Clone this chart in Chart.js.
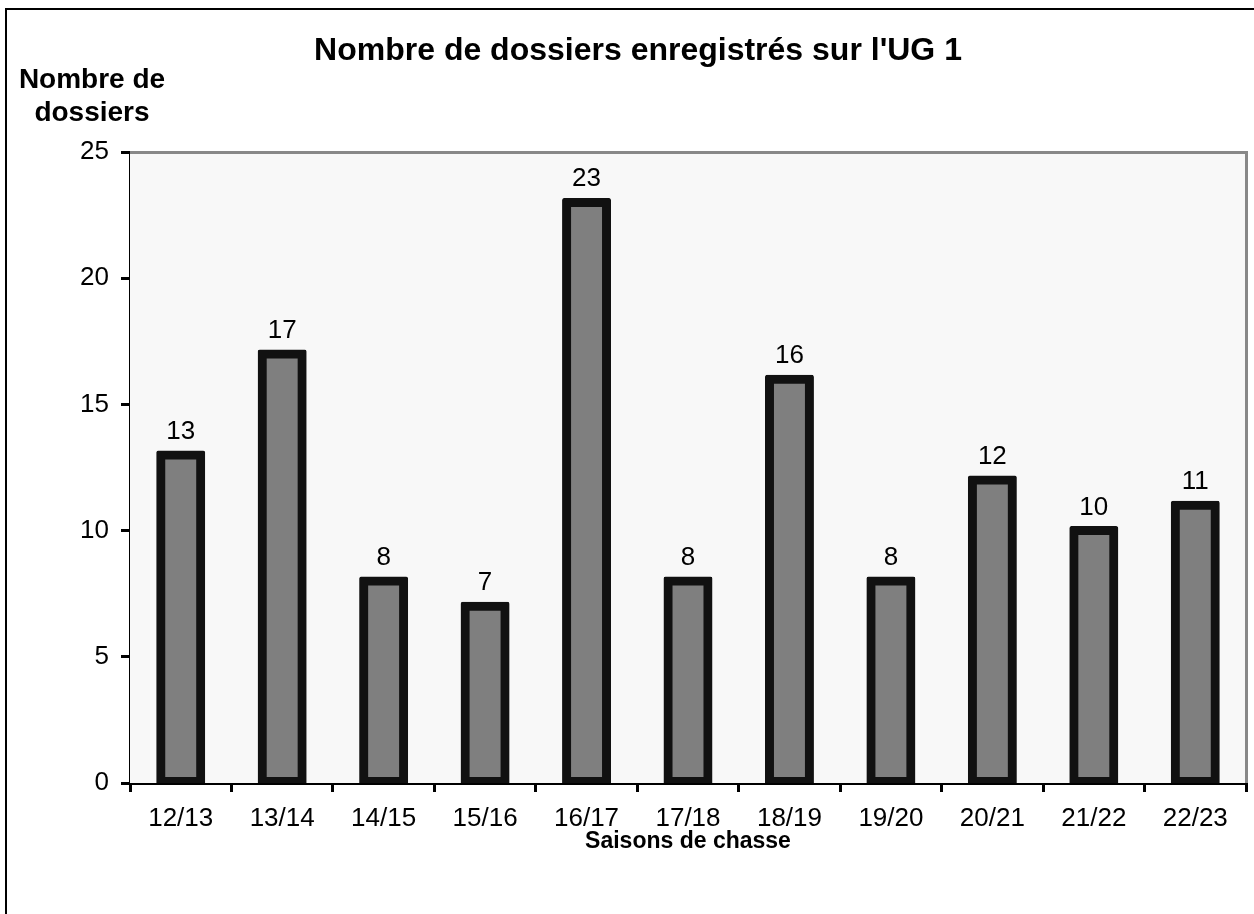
<!DOCTYPE html>
<html lang="fr">
<head>
<meta charset="utf-8">
<title>Nombre de dossiers enregistrés sur l'UG 1</title>
<script src="https://cdn.jsdelivr.net/npm/chart.js@4.4.1/dist/chart.umd.min.js"></script>
<style>
  html, body { margin:0; padding:0; background:#fff; overflow:hidden; }
  #frame { position:absolute; left:5px; top:8px; border:2px solid #000; line-height:0; background:#fff; }
  #chart { display:block; }
</style>
</head>
<body>
<div id="frame"><canvas id="chart" width="1262" height="930"></canvas></div>
<script>
// --- data ---
const seasons = ['12/13','13/14','14/15','15/16','16/17','17/18','18/19','19/20','20/21','21/22','22/23'];
const dossiers = [13, 17, 8, 7, 23, 8, 16, 8, 12, 10, 11];
const yTicks = [0, 5, 10, 15, 20, 25];

const TITLE = "Nombre de dossiers enregistrés sur l'UG 1";
const Y_TITLE = ['Nombre de', 'dossiers'];
const X_TITLE = 'Saisons de chasse';

const FONT = "'Liberation Sans', Arial, sans-serif";

// plot background + grey top/right frame
const plotFrame = {
  id: 'plotFrame',
  beforeDatasetsDraw(chart){
    const {ctx, chartArea:a} = chart;
    ctx.save();
    ctx.fillStyle = '#f8f8f8';
    ctx.fillRect(a.left, a.top, a.right - a.left, a.bottom - a.top);
    ctx.strokeStyle = '#888';
    ctx.lineWidth = 3;
    ctx.beginPath();
    ctx.moveTo(a.left, a.top + 0.5);
    ctx.lineTo(a.right + 0.5, a.top + 0.5);
    ctx.lineTo(a.right + 0.5, a.bottom);
    ctx.stroke();
    ctx.restore();
  }
};

// horizontal y-axis title, top left
const yTitle = {
  id: 'yTitle',
  afterDraw(chart){
    const {ctx} = chart;
    ctx.save();
    ctx.font = 'bold 28px ' + FONT;
    ctx.fillStyle = '#000';
    ctx.textAlign = 'center';
    ctx.textBaseline = 'middle';
    ctx.fillText(Y_TITLE[0], 85, 70);
    ctx.fillText(Y_TITLE[1], 85, 103);
    ctx.restore();
  }
};

// value labels above bars
const valueLabels = {
  id: 'valueLabels',
  afterDatasetsDraw(chart){
    const {ctx} = chart;
    const meta = chart.getDatasetMeta(0);
    ctx.save();
    ctx.font = '26px ' + FONT;
    ctx.fillStyle = '#000';
    ctx.textAlign = 'center';
    ctx.textBaseline = 'alphabetic';
    meta.data.forEach((bar, i)=>{
      ctx.fillText(String(dossiers[i]), bar.x, bar.y - 16);
    });
    ctx.restore();
  }
};

new Chart(document.getElementById('chart'), {
  type: 'bar',
  data: {
    labels: seasons,
    datasets: [{
      data: dossiers,
      backgroundColor: '#7f7f7f',
      borderColor: '#111',
      borderWidth: 9,
      borderSkipped: false,
      borderRadius: 2,
      inflateAmount: 4.5,
      categoryPercentage: 1,
      barPercentage: 0.394
    }]
  },
  options: {
    responsive: false,
    animation: false,
    events: [],
    layout: { padding: { left: 23, right: 23, top: 0, bottom: 0 } },
    plugins: {
      legend: { display: false },
      tooltip: { enabled: false },
      title: {
        display: true,
        text: TITLE,
        color: '#000',
        font: { family: FONT, size: 32, weight: 'bold', lineHeight: 1.2 },
        padding: { top: 22, bottom: 81.6 }
      }
    },
    scales: {
      x: {
        afterFit(scale){ scale.height = 157; },
        grid: {
          offset: true,
          drawOnChartArea: false,
          drawTicks: true,
          tickLength: 9,
          color: '#000',
          lineWidth: 3
        },
        border: { display: true, color: '#000', width: 3 },
        ticks: {
          color: '#000',
          font: { family: FONT, size: 26 },
          padding: 11,
          maxRotation: 0
        },
        title: {
          display: true,
          text: X_TITLE,
          color: '#000',
          font: { family: FONT, size: 23, weight: 'bold' },
          padding: { top: 0, bottom: 85 }
        }
      },
      y: {
        min: 0,
        max: 25,
        afterFit(scale){ scale.width = 100; },
        afterBuildTicks(scale){ scale.ticks = yTicks.map(v=>({value:v})); },
        grid: {
          drawOnChartArea: false,
          drawTicks: true,
          tickLength: 9,
          color: '#000',
          lineWidth: 3
        },
        border: { display: true, color: '#000', width: 3 },
        ticks: {
          color: '#000',
          font: { family: FONT, size: 26 },
          padding: 12
        }
      }
    }
  },
  plugins: [plotFrame, valueLabels, yTitle]
});
</script>
</body>
</html>
